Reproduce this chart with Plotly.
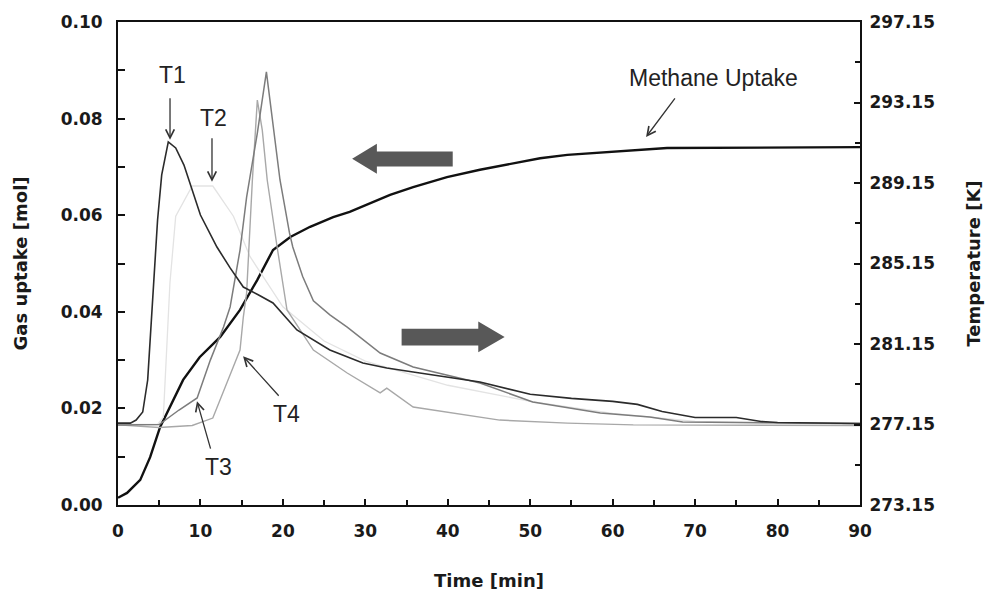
import plotly.graph_objects as go

# ---------------- data ----------------
uptake_t = [0, 1.1, 2.7, 3.9, 5.1, 6.7, 7.9, 9.9, 12.4, 14.8, 16.9, 18.8, 20.9, 23.3,
            26.1, 28.1, 30.6, 33.0, 35.8, 39.9, 43.9, 47.9, 51.2, 54.5, 59.3, 66.6, 90]
uptake_mol = [0.0015, 0.0025, 0.0052, 0.0099, 0.0161, 0.0217, 0.0259, 0.0306, 0.0348,
              0.0404, 0.0466, 0.0528, 0.0555, 0.0576, 0.0596, 0.0607, 0.0625, 0.0642,
              0.0658, 0.0679, 0.0694, 0.0708, 0.0718, 0.0725, 0.0731, 0.0739, 0.0741]

t1_t = [0, 1.5, 2.2, 3.0, 3.6, 4.2, 4.8, 5.3, 6.1, 7.0, 8.0, 10, 12, 13.6, 15.2, 17.0,
        18.8, 21.7, 25.7, 29.7, 32.6, 35.8, 39.9, 43.9, 50, 55, 60, 63, 66, 70, 75, 78, 80, 90]
t1_K = [277.22, 277.22, 277.37, 277.77, 279.36, 283.34, 287.31, 289.55, 291.19, 290.89,
        290.04, 287.56, 285.97, 284.93, 283.98, 283.6, 283.19, 281.85, 280.85, 280.21,
        279.96, 279.76, 279.51, 279.26, 278.65, 278.45, 278.3, 278.15, 277.8, 277.5,
        277.5, 277.3, 277.25, 277.2]

t2_t = [0, 4.8, 5.5, 6.3, 7.0, 9.0, 11.5, 14.0, 16.0, 20, 25, 30, 40, 50, 60, 70, 90]
t2_K = [277.15, 277.15, 277.52, 284.18, 287.5, 289.0, 289.0, 287.5, 285.5, 283.0,
        281.3, 280.3, 279.1, 278.3, 277.7, 277.3, 277.15]

t3_t = [0, 5.0, 7.4, 9.6, 11.2, 12.8, 13.6, 14.8, 15.6, 16.9, 18.0, 19.65, 20.8, 21.2,
        22.4, 23.7, 25.7, 27.8, 31.8, 35.8, 43.9, 50.3, 58.5, 64.5, 68.5, 90]
t3_K = [277.13, 277.15, 277.87, 278.47, 280.35, 281.99, 282.99, 285.82, 288.45, 291.63,
        294.67, 289.3, 286.67, 285.97, 284.5, 283.3, 282.6, 281.99, 280.70, 280.01,
        279.21, 278.27, 277.72, 277.52, 277.27, 277.2]

t4_t = [0, 5, 9, 11.5, 13.2, 14.8, 15.2, 15.6, 16.3, 16.9, 17.5, 18.1, 19.3, 20.5, 23.7,
        27.8, 31.8, 32.6, 35.8, 38.2, 43.9, 46.3, 54.5, 62.5, 90]
t4_K = [277.13, 277.0, 277.1, 277.47, 279.21, 280.85, 282.49, 283.68, 289.30, 293.27,
        291.78, 289.30, 285.97, 282.84, 280.85, 279.71, 278.72, 278.96, 278.02, 277.87,
        277.52, 277.37, 277.22, 277.13, 277.1]

x_ticks = [0, 10, 20, 30, 40, 50, 60, 70, 80, 90]
y_ticks = [0.00, 0.02, 0.04, 0.06, 0.08, 0.10]
y2_ticks = [273.15, 277.15, 281.15, 285.15, 289.15, 293.15, 297.15]

# ---------------- figure ----------------
fig = go.Figure()

fig.add_trace(go.Scatter(x=t2_t, y=t2_K, yaxis="y2", mode="lines",
                         line=dict(color="#e3e3e3", width=1.3), name="T2"))
fig.add_trace(go.Scatter(x=t4_t, y=t4_K, yaxis="y2", mode="lines",
                         line=dict(color="#a8a8a8", width=1.4), name="T4"))
fig.add_trace(go.Scatter(x=t3_t, y=t3_K, yaxis="y2", mode="lines",
                         line=dict(color="#7c7c7c", width=1.5), name="T3"))
fig.add_trace(go.Scatter(x=t1_t, y=t1_K, yaxis="y2", mode="lines",
                         line=dict(color="#2b2b2b", width=1.6), name="T1"))
fig.add_trace(go.Scatter(x=uptake_t, y=uptake_mol, yaxis="y", mode="lines",
                         line=dict(color="#111111", width=2.4), name="Methane Uptake"))

FONT = "DejaVu Sans, Verdana, sans-serif"
tickfont = dict(family=FONT, size=17, color="#1a1a1a", weight="bold")
titlefont = dict(family=FONT, size=18, color="#1a1a1a", weight="bold")

fig.update_layout(
    width=995, height=592,
    margin=dict(l=110, r=143, t=14, b=95),
    paper_bgcolor="white", plot_bgcolor="white",
    showlegend=False,
    xaxis=dict(range=[0, 90], tickvals=x_ticks, showgrid=False, zeroline=False,
               automargin=False,
               showline=True, linecolor="#111", linewidth=2, mirror=True,
               ticks="inside", ticklen=6, tickcolor="#111", tickwidth=1.5,
               minor=dict(dtick=5, tick0=0, ticks="inside", ticklen=5, tickcolor="#111"),
               tickfont=tickfont, ticklabelstandoff=10,
               title=dict(text="Time [min]", font=titlefont, standoff=34)),
    yaxis=dict(range=[0, 0.10], tickvals=y_ticks, tickformat=".2f", showgrid=False,
               automargin=False,
               zeroline=False, showline=True, linecolor="#111", linewidth=2,
               ticks="inside", ticklen=7, tickcolor="#111", tickwidth=1.5,
               minor=dict(dtick=0.01, tick0=0, ticks="inside", ticklen=7, tickcolor="#111"),
               tickfont=tickfont, ticklabelstandoff=10,
               title=dict(text="Gas uptake [mol]", font=titlefont, standoff=28)),
    yaxis2=dict(range=[273.15, 297.15], tickvals=y2_ticks, tickformat=".2f",
                automargin=False,
                overlaying="y", side="right", showgrid=False, zeroline=False,
                showline=True, linecolor="#111", linewidth=2,
                ticks="inside", ticklen=6, tickcolor="#111", tickwidth=1.5,
                minor=dict(dtick=2, tick0=273.15, ticks="inside", ticklen=5, tickcolor="#111"),
                tickfont=tickfont, ticklabelstandoff=4,
                title=dict(text="Temperature [K]", font=titlefont, standoff=33)),
)

# thick block arrows (decoration)
arrow_col = "#585858"
fig.add_shape(type="path", xref="x", yref="y", fillcolor=arrow_col, line=dict(width=0),
              path="M 28.4 0.0717 L 31.4 0.0748 L 31.4 0.0732 L 40.6 0.0732 "
                   "L 40.6 0.0701 L 31.4 0.0701 L 31.4 0.0686 Z")
fig.add_shape(type="path", xref="x", yref="y", fillcolor=arrow_col, line=dict(width=0),
              path="M 46.9 0.0348 L 43.7 0.0380 L 43.7 0.0365 L 34.4 0.0365 "
                   "L 34.4 0.0330 L 43.7 0.0330 L 43.7 0.0316 Z")

lab_font = dict(family="Liberation Sans, Arial, sans-serif", size=23, color="#222")

def pointer(x, y, ax, ay):
    fig.add_annotation(x=x, y=y, xref="x", yref="y", ax=ax, ay=ay, text="",
                       showarrow=True, arrowhead=5, arrowsize=1.3, arrowwidth=1.3,
                       arrowcolor="#333")

def label(x, y, txt):
    fig.add_annotation(x=x, y=y, xref="x", yref="y", text=txt, showarrow=False,
                       font=lab_font)

pointer(6.31, 0.0756, 0, -43)
pointer(11.40, 0.0669, 0, -45)
pointer(9.58, 0.0215, 14, 49)
pointer(15.17, 0.0308, 37, 41)
pointer(64.05, 0.0762, 30, -40)

label(6.55, 0.0890, "T1")
label(11.64, 0.0801, "T2")
label(12.13, 0.0079, "T3")
label(20.38, 0.0188, "T4")
label(72.17, 0.0884, "Methane Uptake")

fig.write_html("out.html")
